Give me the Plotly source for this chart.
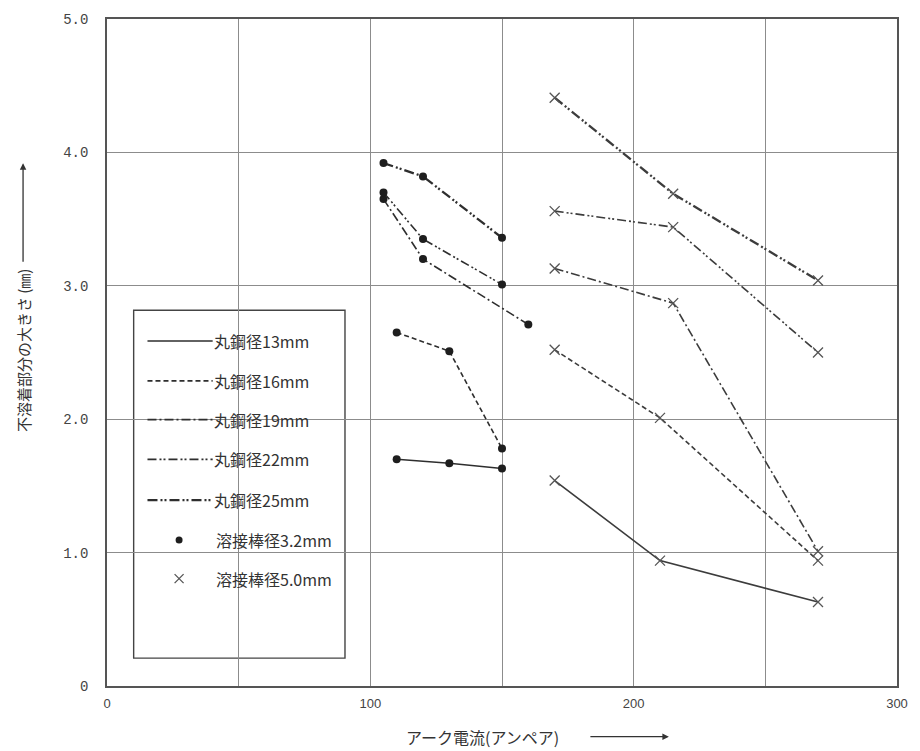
import plotly.graph_objects as go

# Arc current (A) vs. size of the unfused part (mm)
rod_labels = ["丸鋼径13mm", "丸鋼径16mm", "丸鋼径19mm", "丸鋼径22mm", "丸鋼径25mm"]
electrode_labels = ["溶接棒径3.2mm", "溶接棒径5.0mm"]

# electrode 3.2 mm
x32_13 = [110, 130, 150]
y32_13 = [1.70, 1.67, 1.63]
x32_16 = [110, 130, 150]
y32_16 = [2.65, 2.51, 1.78]
x32_19 = [105, 120, 160]
y32_19 = [3.65, 3.20, 2.71]
x32_22 = [105, 120, 150]
y32_22 = [3.70, 3.35, 3.01]
x32_25 = [105, 120, 150]
y32_25 = [3.92, 3.82, 3.36]

# electrode 5.0 mm
x50_13 = [170, 210, 270]
y50_13 = [1.54, 0.94, 0.63]
x50_16 = [170, 210, 270]
y50_16 = [2.52, 2.01, 0.94]
x50_19 = [170, 215, 270]
y50_19 = [3.13, 2.87, 1.01]
x50_22 = [170, 215, 270]
y50_22 = [3.56, 3.44, 2.50]
x50_25 = [170, 215, 270]
y50_25 = [4.41, 3.69, 3.04]

x_ticks = [0, 50, 100, 150, 200, 250, 300]
x_ticktext = ["0", "", "100", "", "200", "", "300"]
y_ticks = [0, 1, 2, 3, 4, 5]
y_ticktext = ["0", "1.0", "2.0", "3.0", "4.0", "5.0"]

INK = "#2e2e2e"
XMARK = "#555555"
GRID = "#8c8c8c"
JP = "Noto Sans CJK JP"

# line style per rod diameter
styles = [
    dict(dash="solid", width=1.6),
    dict(dash="5px,3px", width=1.6),
    dict(dash="9px,3px,2px,3px", width=1.6),
    dict(dash="9px,3px,2px,2px,2px,3px", width=1.6),
    dict(dash="10px,3px,2px,2px,2px,3px", width=2.3),
]

series32 = [(x32_13, y32_13), (x32_16, y32_16), (x32_19, y32_19), (x32_22, y32_22), (x32_25, y32_25)]
series50 = [(x50_13, y50_13), (x50_16, y50_16), (x50_19, y50_19), (x50_22, y50_22), (x50_25, y50_25)]

fig = go.Figure()
for (xs, ys), st, name in zip(series32, styles, rod_labels):
    fig.add_trace(go.Scatter(
        x=xs, y=ys, mode="lines+markers", name=name + " / " + electrode_labels[0],
        line=dict(color=INK, dash=st["dash"], width=st["width"]),
        marker=dict(symbol="circle", size=8, color="#1e1e1e"),
        showlegend=False,
    ))
for (xs, ys), st, name in zip(series50, styles, rod_labels):
    fig.add_trace(go.Scatter(
        x=xs, y=ys, mode="lines+markers", name=name + " / " + electrode_labels[1],
        line=dict(color="#3c3c3c", dash=st["dash"], width=st["width"]),
        marker=dict(symbol="x-thin-open", size=10, color=XMARK, line=dict(color=XMARK, width=1.3)),
        showlegend=False,
    ))

# plot area in pixels
L, R, T, B = 107, 907, 15, 686
W, H = 920, 751


def px(xp):
    return (xp - L) / (R - L)


def py(yp):
    return (B - yp) / (B - T)


shapes = []
annotations = []

# legend box (hides the grid behind it, stays under the traces)
shapes.append(dict(type="rect", xref="paper", yref="paper",
                   x0=px(134), x1=px(348), y0=py(658), y1=py(308),
                   line=dict(color="#444444", width=1.4), fillcolor="white", layer="between"))
rows = [339, 379, 418, 458, 499]
for yrow, st, name in zip(rows, styles, rod_labels):
    shapes.append(dict(type="line", xref="paper", yref="paper",
                       x0=px(148), x1=px(214), y0=py(yrow), y1=py(yrow),
                       line=dict(color=INK, dash=st["dash"], width=st["width"]), layer="above"))
    annotations.append(dict(xref="paper", yref="paper", x=px(213), y=py(yrow),
                            text=name, showarrow=False, xanchor="left", yanchor="middle",
                            font=dict(family=JP, size=16, color="#333333")))

# marker legend entries
fig.add_trace(go.Scatter(x=[px(180)], y=[py(539)], xaxis="x2", yaxis="y2", mode="markers",
                         marker=dict(symbol="circle", size=7, color="#1e1e1e"),
                         showlegend=False, hoverinfo="skip"))
fig.add_trace(go.Scatter(x=[px(180)], y=[py(578)], xaxis="x2", yaxis="y2", mode="markers",
                         marker=dict(symbol="x-thin-open", size=9, color=XMARK,
                                     line=dict(color=XMARK, width=1.3)),
                         showlegend=False, hoverinfo="skip"))
for yrow, name in zip([539, 578], electrode_labels):
    annotations.append(dict(xref="paper", yref="paper", x=px(215), y=py(yrow),
                            text=name, showarrow=False, xanchor="left", yanchor="middle",
                            font=dict(family=JP, size=16, color="#333333")))

# axis titles with arrows
annotations.append(dict(xref="paper", yref="paper", x=px(487), y=py(737),
                        text="アーク電流(アンペア)", showarrow=False,
                        xanchor="center", yanchor="middle",
                        font=dict(family=JP, size=16, color="#333333")))
annotations.append(dict(xref="paper", yref="paper", x=px(676), y=py(737),
                        ax=-80, ay=0, text="", showarrow=True,
                        arrowhead=2, arrowsize=1, arrowwidth=1.3, arrowcolor="#333333"))
annotations.append(dict(xref="paper", yref="paper", x=px(22), y=py(348),
                        text="不溶着部分の大きさ (㎜)", showarrow=False, textangle=-90,
                        xanchor="center", yanchor="middle",
                        font=dict(family=JP, size=15, color="#333333")))
annotations.append(dict(xref="paper", yref="paper", x=px(22), y=py(160),
                        ax=0, ay=100, text="", showarrow=True,
                        arrowhead=2, arrowsize=1, arrowwidth=1.3, arrowcolor="#333333"))

fig.update_layout(
    width=W, height=H,
    margin=dict(l=L, r=W - R, t=T, b=H - B),
    paper_bgcolor="white", plot_bgcolor="white",
    showlegend=False,
    shapes=shapes, annotations=annotations,
    xaxis=dict(range=[0, 300], tickvals=x_ticks, ticktext=x_ticktext,
               showgrid=True, gridcolor=GRID, gridwidth=1,
               showline=True, linecolor="#555555", linewidth=1.5, mirror=True,
               zeroline=False, ticks="", ticklabelstandoff=5,
               tickfont=dict(family="Liberation Sans", size=13, color="#444444")),
    yaxis=dict(range=[0, 5], tickvals=y_ticks, ticktext=y_ticktext,
               showgrid=True, gridcolor=GRID, gridwidth=1,
               showline=True, linecolor="#555555", linewidth=1.5, mirror=True,
               zeroline=False, ticks="", ticklabelstandoff=14,
               tickfont=dict(family="Liberation Mono", size=14, color="#444444")),
    xaxis2=dict(range=[0, 1], overlaying="x", visible=False, fixedrange=True),
    yaxis2=dict(range=[0, 1], overlaying="y", visible=False, fixedrange=True),
)

fig.write_html("out.html")
